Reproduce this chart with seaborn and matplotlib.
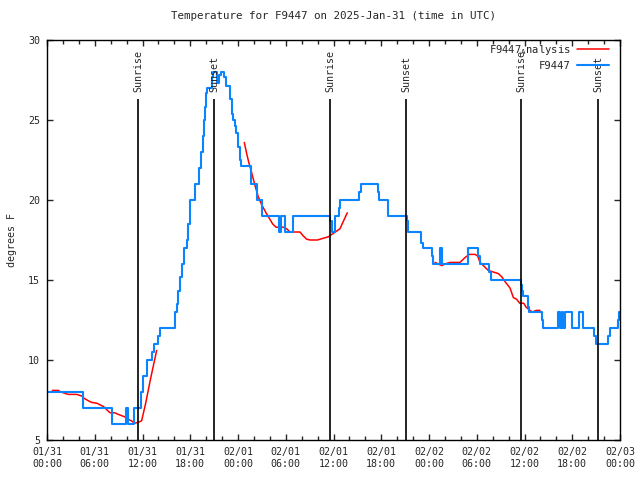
import numpy as np
import pandas as pd
import matplotlib
matplotlib.use('Agg')
import matplotlib.pyplot as plt
import matplotlib.dates as mdates
from matplotlib.lines import Line2D
import seaborn as sns

# --- data (hours after 2025-01-31 00:00 UTC) ---
obs_hours = [0.0, 4.55, 8.2, 9.95, 10.15, 10.9, 11.75, 12.1, 12.6, 13.2, 13.45, 13.9, 14.2,
             16.05, 16.3, 16.5, 16.7, 16.95, 17.25, 17.55, 17.75, 18.0, 18.65, 19.05, 19.3,
             19.55, 19.75, 19.85, 19.98, 20.13, 20.7, 20.9, 21.3, 21.6, 21.85, 22.3, 22.45,
             22.95, 23.2, 23.35, 23.6, 23.8, 24.05, 24.2, 24.4, 25.6, 26.35, 26.98, 29.2,
             29.45, 29.9, 30.95, 35.6, 35.8, 36.15, 36.7, 36.85, 39.25, 39.45, 41.6, 41.75,
             42.8, 45.2, 45.3, 47.0, 47.2, 48.35, 48.5, 49.35, 49.6, 52.9, 53.05, 54.15,
             54.35, 55.6, 55.85, 59.55, 59.7, 59.85, 60.45, 60.6, 62.2, 62.35, 64.2, 64.45,
             64.65, 64.85, 65.05, 65.95, 66.85, 67.3, 68.7, 68.95, 70.5, 70.7, 71.7, 71.85, 72.0]
obs_temp = [8, 7, 6, 7, 6, 7, 8, 9, 10, 10.5, 11, 11.5, 12,
            13, 13.5, 14.3, 15.2, 16, 17, 17.5, 18.5, 20, 21, 22, 23,
            24, 25, 25.8, 26.7, 27, 27.7, 28, 27.3, 27.8, 28, 27.7, 27.1,
            26.3, 25.4, 25, 24.6, 24.2, 23.3, 22.5, 22.1, 21, 20, 19, 18,
            19, 18, 19, 18.7, 18, 19, 19.5, 20, 20.5, 21, 20.5, 20,
            19, 18.7, 18, 17.3, 17, 16.5, 16, 17, 16, 17, 17, 16.5,
            16, 15.5, 15, 14.7, 14.3, 14, 13.3, 13, 12.5, 12, 13, 12,
            13, 12, 13, 12, 13, 12, 11.5, 11, 11.5, 12, 12.5, 13, 13]

ana_seg = [1] * 26 + [2] * 22 + [3] * 28
ana_hours = [0.67, 1.42, 1.76, 2.35, 2.67, 3.73, 4.36, 4.69, 5.2, 5.61, 6.24, 6.66, 7.07,
             7.5, 7.92, 8.54, 8.96, 9.76, 10.19, 10.6, 11.01, 11.45, 11.89, 12.4, 13.0, 13.78,
             24.79, 25.09, 25.38, 25.72, 26.14, 26.55, 26.98, 27.52, 27.94, 28.36, 28.78,
             29.7, 30.12, 30.54, 31.79, 32.21, 32.63, 33.05, 33.97, 35.35, 36.81, 37.73,
             48.76, 49.18, 49.6, 50.01, 50.63, 51.26, 51.89, 52.52, 53.06, 53.78, 54.12,
             54.41, 55.04, 55.45, 56.08, 56.71, 57.14, 57.55, 58.18, 58.6, 59.0, 59.4,
             59.9, 60.2, 60.95, 61.5, 61.8, 61.95]
ana_temp = [8.1, 8.1, 8.0, 7.9, 7.85, 7.85, 7.75, 7.6, 7.45, 7.35, 7.3, 7.2, 7.1,
            6.9, 6.7, 6.7, 6.6, 6.45, 6.3, 6.2, 6.05, 6.1, 6.2, 7.3, 8.8, 10.6,
            23.6, 22.9, 22.3, 21.7, 20.9, 20.2, 19.7, 19.2, 18.85, 18.5, 18.3,
            18.3, 18.2, 18.0, 18.0, 17.75, 17.55, 17.5, 17.5, 17.7, 18.2, 19.2,
            16.1, 16.0, 15.9, 16.0, 16.1, 16.1, 16.1, 16.4, 16.6, 16.6, 16.5,
            16.1, 15.8, 15.6, 15.5, 15.4, 15.2, 14.9, 14.5, 13.9, 13.8, 13.55,
            13.55, 13.3, 13.0, 13.1, 13.1, 13.1]

sun_hours = [11.47, 20.98, 35.62, 45.15, 59.6, 69.28]
sun_labels = ['Sunrise', 'Sunset', 'Sunrise', 'Sunset', 'Sunrise', 'Sunset']

base = pd.Timestamp('2025-01-31 00:00')
obs = pd.DataFrame({'time': base + pd.to_timedelta(obs_hours, unit='h'), 'temp': obs_temp})
ana = pd.DataFrame({'time': base + pd.to_timedelta(ana_hours, unit='h'), 'temp': ana_temp, 'seg': ana_seg})
sun_times = base + pd.to_timedelta(sun_hours, unit='h')

sns.set_style('ticks')
plt.rcParams['font.family'] = ['DejaVu Sans Mono']
plt.rcParams['font.size'] = 7.2

fig = plt.figure(figsize=(6.4, 4.8), dpi=100)
ax = fig.add_axes([47 / 640, 40 / 480, 573 / 640, 400 / 480])

blue = '#0a84ff'
sns.lineplot(data=ana, x='time', y='temp', units='seg', estimator=None, color='red', lw=1.1, ax=ax)
sns.lineplot(data=obs, x='time', y='temp', color=blue, lw=1.5, drawstyle='steps-post', ax=ax)

# sunrise / sunset markers
ax.vlines(sun_times, 5, 26.3, color='black', lw=1.2)
for t, lab in zip(sun_times, sun_labels):
    ax.text(t, 26.75, lab, rotation=90, ha='center', va='bottom', fontsize=7.2)

ax.set_xlim(base, base + pd.Timedelta(hours=72))
ax.set_ylim(5, 30)
ax.set_yticks([5, 10, 15, 20, 25, 30])
ax.xaxis.set_major_locator(mdates.HourLocator(byhour=[0, 6, 12, 18]))
ax.xaxis.set_minor_locator(mdates.HourLocator(interval=2))
ax.xaxis.set_major_formatter(mdates.DateFormatter('%m/%d\n%H:%M'))
ax.tick_params(which='both', direction='in', top=True, right=True, width=1, labelsize=7.2)
ax.tick_params(which='major', length=4, pad=5)
ax.tick_params(which='minor', length=3)
for s in ax.spines.values():
    s.set_linewidth(1)
    s.set_color('black')

ax.set_xlabel('')
ax.set_ylabel('degrees F', fontsize=7.2, labelpad=8)
ax.set_title('Temperature for F9447 on 2025-Jan-31 (time in UTC)', fontsize=7.8, pad=15)

handles = [Line2D([], [], color='red', lw=1.1), Line2D([], [], color=blue, lw=1.5)]
ax.legend(handles, ['F9447$_\\mathregular{A}$nalysis', 'F9447'], loc='upper right',
          bbox_to_anchor=(0.986, 1.0), frameon=False, markerfirst=False,
          handlelength=3.0, fontsize=7.6, borderaxespad=0.0, borderpad=0.3,
          labelspacing=0.35, handletextpad=0.6)

fig.savefig('out.png', dpi=100)
